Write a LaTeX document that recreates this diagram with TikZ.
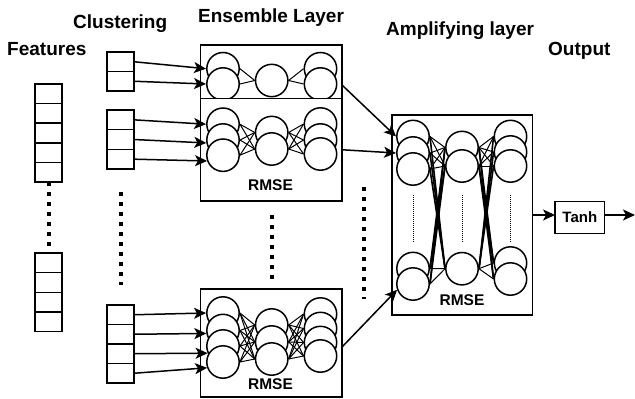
\documentclass[tikz,border=0pt]{standalone}
\usepackage{fontspec}
\setmainfont{Liberation Sans}
\usetikzlibrary{arrows.meta,calc}
\pgfdeclarelayer{back}
\pgfsetlayers{back,main}
\begin{document}
\begin{tikzpicture}[x=1pt,y=-1pt,
  cell/.style={draw,line width=1.5pt,minimum width=27pt,minimum height=19.6pt,inner sep=0,outer sep=0,fill=white,anchor=north west},
  neuron/.style={draw,circle,line width=1.5pt,fill=white,minimum size=32.4pt,inner sep=0},
  boxsty/.style={draw,line width=1.5pt,inner sep=0,outer sep=0,anchor=north west},
  title/.style={font=\fontsize{19}{22}\selectfont\bfseries,inner sep=0,anchor=base west},
  lbl/.style={font=\fontsize{15.5}{18}\selectfont\bfseries,inner sep=0,anchor=base},
  arr/.style={line width=1.5pt,-{Stealth[length=12pt,width=11pt,inset=3pt]}},
  conn/.style={line width=1pt},
  thickconn/.style={line width=1.6pt},
  bigdots/.style={line width=4pt,dash pattern=on 4pt off 6pt},
  thindots/.style={line width=1pt,dash pattern=on 1pt off 1pt},
]
\useasboundingbox (0,0) rectangle (635,399);

% titles
\node[title] (tF) at (7,55) {Features};
\node[title] (tC) at (73,28) {Clustering};
\node[title] (tE) at (198,22) {Ensemble Layer};
\node[title] (tA) at (386,35) {Amplifying layer};
\node[title] (tO) at (548,55) {Output};

% feature cells
\foreach \i in {0,...,4} \node[cell] (f\i) at (35,84+19.6*\i) {};
\foreach \i in {0,...,3} \node[cell] (g\i) at (35,253+19.7*\i) {};
\draw[bigdots] (f4.south) -- (g0.north);

% clustering cells
\foreach \i in {0,1} \node[cell,minimum height=19.5pt] (ca\i) at (107,52+19.5*\i) {};
\foreach \i in {0,1,2} \node[cell,minimum height=19.67pt] (cb\i) at (107,110+19.67*\i) {};
\foreach \i in {0,...,3} \node[cell,minimum height=19.5pt] (cc\i) at (107,305+19.5*\i) {};
\coordinate (cd1) at (121,192);
\coordinate (cd2) at (121,285);
\draw[bigdots] (cd1) -- (cd2);

% ensemble boxes
\node[boxsty,draw=none,minimum width=141.5pt,minimum height=53.5pt] (E1) at (200.5,45) {};
\node[boxsty,draw=none,minimum width=141.5pt,minimum height=102.5pt] (E2) at (200.5,98.5) {};
\node[boxsty,minimum width=141.5pt,minimum height=156pt] (E12) at (200.5,45) {};
\draw[line width=1.5pt] (E1.south west) -- (E1.south east);
\node[boxsty,minimum width=141.5pt,minimum height=108pt] (E3) at (200.5,289) {};
\coordinate (ed1) at (272.3,215);
\coordinate (ed2) at (272.3,279);
\draw[bigdots] (ed1) -- (ed2);

% ensemble 1 neurons (clipped to box)
\begin{scope}
\clip (200.5,45) rectangle (342,97.8);
\node[neuron] (e1a) at (223,68.7) {};
\node[neuron] (e1b) at (223,84) {};
\node[neuron] (e1m) at (271.7,80.5) {};
\node[neuron] (e1c) at (320.5,68.7) {};
\node[neuron] (e1d) at (320.5,84) {};
\end{scope}
\begin{pgfonlayer}{back}
\foreach \a in {e1a,e1b} \draw[conn] (\a.east) -- (e1m.west);
\foreach \b in {e1c,e1d} \draw[conn] (e1m.east) -- (\b.west);
\end{pgfonlayer}

% ensemble 2 neurons
\node[neuron] (e2a) at (223,124.2) {};
\node[neuron] (e2b) at (223,140) {};
\node[neuron] (e2c) at (223,155.2) {};
\node[neuron] (e2m) at (271.7,132.5) {};
\node[neuron] (e2n) at (271.7,149) {};
\node[neuron] (e2d) at (320.5,124) {};
\node[neuron] (e2e) at (320.5,140) {};
\node[neuron] (e2f) at (320.5,154) {};
\begin{pgfonlayer}{back}
\foreach \a in {e2a,e2b,e2c} \foreach \b in {e2m,e2n} \draw[conn] (\a.east) -- (\b.west);
\foreach \a in {e2m,e2n} \foreach \b in {e2d,e2e,e2f} \draw[conn] (\a.east) -- (\b.west);
\end{pgfonlayer}
\node[lbl] (r2) at (270.5,190.7) {RMSE};

% ensemble 3 neurons
\node[neuron] (e3a) at (223,313) {};
\node[neuron] (e3b) at (223,330.5) {};
\node[neuron] (e3c) at (223,346) {};
\node[neuron] (e3d) at (223,362) {};
\node[neuron] (e3m) at (271.7,325) {};
\node[neuron] (e3n) at (271.7,342) {};
\node[neuron] (e3o) at (271.7,359) {};
\node[neuron] (e3e) at (320.5,314) {};
\node[neuron] (e3f) at (320.5,328.5) {};
\node[neuron] (e3g) at (320.5,342.5) {};
\node[neuron] (e3h) at (320.5,356) {};
\begin{pgfonlayer}{back}
\foreach \a in {e3a,e3b,e3c,e3d} \foreach \b in {e3m,e3n,e3o} \draw[conn] (\a.east) -- (\b.west);
\foreach \a in {e3m,e3n,e3o} \foreach \b in {e3e,e3f,e3g,e3h} \draw[conn] (\a.east) -- (\b.west);
\end{pgfonlayer}
\node[lbl] (r3) at (270.5,389.7) {RMSE};

% amplifying box
\node[boxsty,minimum width=140.5pt,minimum height=200pt] (A) at (392,115) {};
\coordinate (ad1) at (364.3,187);
\coordinate (ad2) at (364.3,299);
\draw[bigdots] (ad1) -- (ad2);

\node[neuron] (aL1) at (413,136.5) {};
\node[neuron] (aL2) at (413,153) {};
\node[neuron] (aL3) at (413,169) {};
\node[neuron] (aM1) at (462,147.5) {};
\node[neuron] (aM2) at (462,166) {};
\node[neuron] (aR1) at (510.5,136.5) {};
\node[neuron] (aR2) at (510.5,152) {};
\node[neuron] (aR3) at (510.5,166) {};
\node[neuron] (aL4) at (413,268.5) {};
\node[neuron] (aL5) at (413,284) {};
\node[neuron] (aM3) at (462,268.7) {};
\node[neuron] (aR4) at (510.5,263) {};
\node[neuron] (aR5) at (510.5,279) {};
\begin{pgfonlayer}{back}
\foreach \a in {aL1,aL2,aL3} \foreach \b in {aM1,aM2} \draw[conn] (\a.east) -- (\b.west);
\foreach \a in {aM1,aM2} \foreach \b in {aR1,aR2,aR3} \draw[conn] (\a.east) -- (\b.west);
\foreach \a in {aL4,aL5} \draw[conn] (\a.east) -- (aM3.west);
\foreach \b in {aR4,aR5} \draw[conn] (aM3.east) -- (\b.west);
\foreach \a in {aL1,aL2,aL3} \draw[thickconn] (\a.east) -- (aM3.west);
\foreach \a in {aM1,aM2} \foreach \b in {aL4,aL5} \draw[thickconn] (\a.west) -- (\b.east);
\foreach \a in {aM1,aM2} \foreach \b in {aR4,aR5} \draw[thickconn] (\a.east) -- (\b.west);
\foreach \a in {aR1,aR2,aR3} \draw[thickconn] (\a.west) -- (aM3.east);
\end{pgfonlayer}
\foreach \x/\n in {413.3/1,462.7/2,510.7/3} {
  \coordinate (dt\n) at (\x,195);
  \coordinate (db\n) at (\x,243);
  \draw[thindots] (dt\n) -- (db\n);
}
\node[lbl] (rA) at (462,305) {RMSE};

% tanh
\node[draw,line width=1.5pt,minimum width=49.5pt,minimum height=32pt,inner sep=0,outer sep=0,font=\fontsize{15}{18}\selectfont\bfseries] (T) at (579.8,217.5) {Tanh};
\coordinate (out) at (635,215);

% arrows clustering -> ensemble
\draw[arr] (ca0.east) -- (e1a.west);
\draw[arr] (ca1.east) -- (e1b.west);
\draw[arr] (cb0.east) -- (e2a.west);
\draw[arr] (cb1.east) -- (e2b.190);
\draw[arr] (cb2.east) -- (e2c.200);
\draw[arr] (cc0.east) -- (e3a.west);
\draw[arr] (cc1.east) -- (e3b.190);
\draw[arr] (cc2.east) -- (e3c.205);
\draw[arr] (cc3.east) -- (e3d.200);

% ensemble -> amplifying
\draw[arr] ([yshift=13.5pt]E1.south east) -- (aL1.west);
\draw[arr] (E2.east) -- (aL2.west);
\draw[arr] ([yshift=-4pt]E3.east) -- (aL5.200);

% output
\draw[arr] (A.east) -- (A.east -| T.west);
\draw[arr] (T.east |- A.east) -- (out);
\end{tikzpicture}
\end{document}
